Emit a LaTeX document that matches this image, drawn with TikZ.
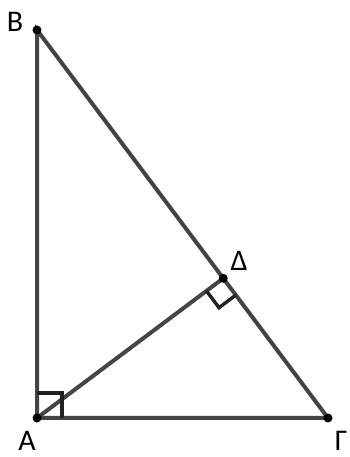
\documentclass[tikz,border=0pt]{standalone}
\usepackage{fontspec}
\setmainfont{Carlito}
\usepackage{tikz}
\usetikzlibrary{calc}
\definecolor{side}{HTML}{444444}
\definecolor{mark}{HTML}{222222}

\begin{document}
\begin{tikzpicture}[x=1pt, y=1pt,
  side/.style={draw=side, line width=4pt},
  rmark/.style={draw=mark, line width=3.4pt},
  pt/.style={circle, fill=black, inner sep=0pt, minimum size=9pt},
  lbl/.style={font=\fontsize{30}{30}\selectfont, inner sep=0pt}
]
\useasboundingbox (0,0) rectangle (349,457);
\coordinate (A) at (37,39);
\coordinate (B) at (37,427);
\coordinate (G) at (328,39);
\coordinate (D) at ($(B)!(A)!(G)$);
\coordinate (DA) at ($(D)!21pt!(A)$);
\coordinate (DG) at ($(D)!21pt!(G)$);
% sides and altitude
\draw[side] (A) -- (B) -- (G) -- cycle;
\draw[side] (A) -- (D);
% right angles
\draw[rmark] ($(A)+(0,25)$) -- ($(A)+(25,25)$) -- ($(A)+(25,0)$);
\draw[rmark] (DA) -- ($(DA)+(DG)-(D)$) -- (DG);
% points
\node[pt] (pA) at (A) {};
\node[pt] (pB) at (B) {};
\node[pt] (pG) at (G) {};
\node[pt] (pD) at (D) {};
\node[lbl] (lB) at (15,435) {B};
\node[lbl] (lD) at (239,196) {Δ};
\node[lbl] (lA) at (27,16) {A};
\node[lbl] (lG) at (341,16) {Γ};
\end{tikzpicture}
\end{document}
